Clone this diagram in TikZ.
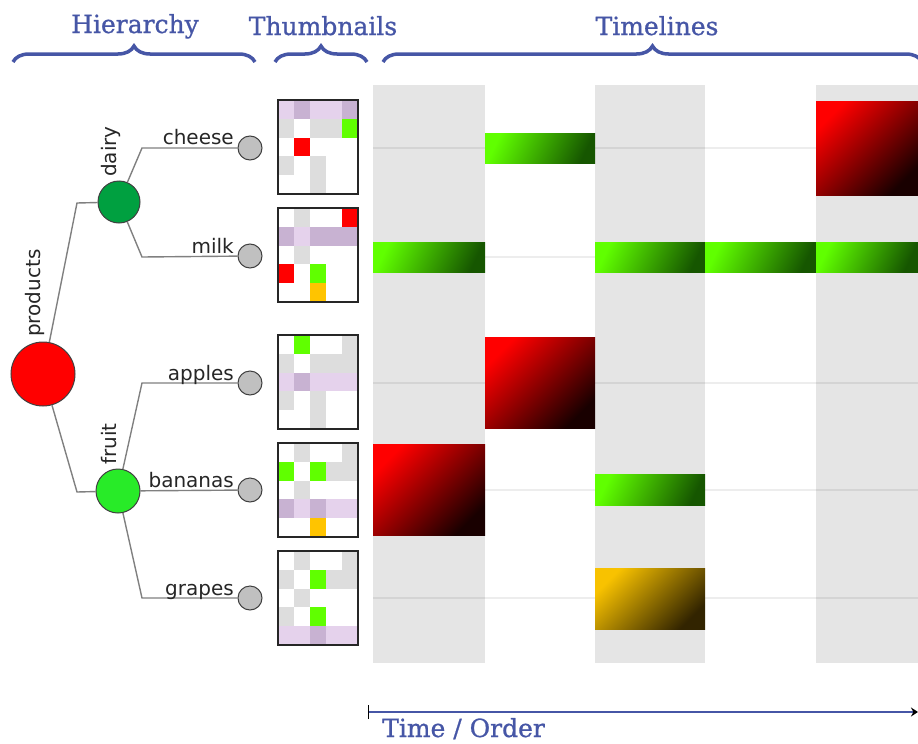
\documentclass[tikz,border=0pt]{standalone}
\usepackage{fontspec}
\setmainfont{DejaVu Serif}
\newfontfamily\hdrfont[FakeBold=0.9]{DejaVu Serif}
\newfontfamily\lblfont{DejaVu Sans}
\usetikzlibrary{decorations.pathreplacing,arrows.meta}
\definecolor{hdr}{RGB}{70,86,166}
\definecolor{bandgray}{RGB}{229,229,229}
\definecolor{gy}{RGB}{221,221,221}
\definecolor{pl}{RGB}{229,210,236}
\definecolor{pd}{RGB}{200,178,210}
\definecolor{gn}{RGB}{96,255,0}
\definecolor{rd}{RGB}{255,0,0}
\definecolor{og}{RGB}{255,196,0}
\definecolor{wh}{RGB}{255,255,255}
\definecolor{dairygreen}{RGB}{0,160,64}
\definecolor{fruitgreen}{RGB}{40,235,40}
\definecolor{leafgray}{RGB}{192,192,192}
\definecolor{gbright}{RGB}{96,255,0}
\definecolor{gdark}{RGB}{22,86,0}
\definecolor{obright}{RGB}{248,194,0}
\definecolor{odark}{RGB}{50,36,0}
\definecolor{rdark}{RGB}{25,0,0}
\tikzset{
  hdrtxt/.style={font=\hdrfont\fontsize{25}{30}\selectfont, text=hdr, inner sep=0},
  bracedeco/.style={draw=hdr, line width=3.5pt, decorate, decoration={brace, amplitude=16pt}},
  lbl/.style={font=\lblfont\fontsize{20}{24}\selectfont, text=black!85, inner sep=0},
  conn/.style={draw=black!50, line width=1.4pt},
  bigcirc/.style={circle, draw=black!75, line width=1pt, inner sep=0},
  leaf/.style={circle, draw=black!75, line width=1pt, inner sep=0, minimum size=24pt, fill=leafgray},
  thumbbox/.style={draw=black!85, line width=2pt, minimum width=80pt, minimum height=94pt, inner sep=0},
  band/.style={fill=bandgray},
  rowline/.style={draw=black, draw opacity=0.07, line width=2pt},
  greenbar/.style={top color=gbright, bottom color=gdark, shading angle=65},
  redbox/.style={top color=rd, bottom color=rdark, shading angle=45},
  orangebox/.style={top color=obright, bottom color=odark, shading angle=45}
}
\newcommand\thumbrow[3]{%
  \foreach \cc [count=\ii from 0] in {#3} {\fill[fill=\cc] ({278+16*\ii},{#1+18.8*#2}) rectangle ++(16,18.8);}}
\begin{document}
\begin{tikzpicture}[x=1pt,y=-1pt]
\useasboundingbox (0,0) rectangle (918,744);

% headers
\node[hdrtxt, anchor=base] (hHier) at (135,33) {Hierarchy};
\node[hdrtxt, anchor=base] (hThumb) at (323,35) {Thumbnails};
\node[hdrtxt, anchor=base] (hTime) at (657,35) {Timelines};
\draw[bracedeco] (13,62) -- (255,62);
\draw[bracedeco] (275,62) -- (367,62);
\draw[bracedeco] (383,62) -- (922,62);

% timeline bands
\fill[band] (373,85) rectangle (485,663);
\fill[band] (595,85) rectangle (705,663);
\fill[band] (816,85) rectangle (918,663);
\foreach \yy in {148,257,383,490,598} {\draw[rowline] (373,\yy) -- (918,\yy);}

% bars
\shade[greenbar] (485,133) rectangle (595,163);
\shade[redbox] (816,101) rectangle (918,195);
\shade[greenbar] (373,242) rectangle (485,272);
\shade[greenbar] (595,242) rectangle (705,272);
\shade[greenbar] (705,242) rectangle (816,272);
\shade[greenbar] (816,242) rectangle (918,272);
\shade[redbox] (485,337) rectangle (595,428);
\shade[redbox] (373,444) rectangle (485,535);
\shade[greenbar] (595,474) rectangle (705,505);
\shade[orangebox] (595,568) rectangle (705,629);

% thumbnails
\thumbrow{100}{0}{pl,pd,pl,pl,pd}
\thumbrow{100}{1}{gy,wh,gy,gy,gn}
\thumbrow{100}{2}{wh,rd,wh,wh,wh}
\thumbrow{100}{3}{gy,wh,gy,wh,wh}
\thumbrow{100}{4}{wh,wh,gy,wh,wh}
\node[thumbbox] (th1) at (318,147) {};

\thumbrow{208}{0}{wh,gy,wh,wh,rd}
\thumbrow{208}{1}{pd,pl,pd,pd,pd}
\thumbrow{208}{2}{wh,gy,wh,wh,wh}
\thumbrow{208}{3}{rd,wh,gn,wh,wh}
\thumbrow{208}{4}{wh,wh,og,wh,wh}
\node[thumbbox] (th2) at (318,255) {};

\thumbrow{335}{0}{wh,gn,wh,wh,gy}
\thumbrow{335}{1}{gy,wh,gy,gy,gy}
\thumbrow{335}{2}{pl,pd,pl,pl,pl}
\thumbrow{335}{3}{gy,wh,gy,wh,wh}
\thumbrow{335}{4}{wh,wh,gy,wh,wh}
\node[thumbbox] (th3) at (318,382) {};

\thumbrow{443}{0}{wh,gy,wh,wh,gy}
\thumbrow{443}{1}{gn,wh,gn,gy,gy}
\thumbrow{443}{2}{wh,gy,wh,wh,wh}
\thumbrow{443}{3}{pd,pl,pd,pl,pl}
\thumbrow{443}{4}{wh,wh,og,wh,wh}
\node[thumbbox] (th4) at (318,490) {};

\thumbrow{551}{0}{wh,gy,wh,wh,gy}
\thumbrow{551}{1}{gy,wh,gn,gy,gy}
\thumbrow{551}{2}{wh,gy,wh,wh,wh}
\thumbrow{551}{3}{gy,wh,gn,wh,wh}
\thumbrow{551}{4}{pl,pl,pd,pl,pl}
\node[thumbbox] (th5) at (318,598) {};

% tree
\node[bigcirc, fill=rd, minimum size=64pt] (products) at (43,374) {};
\node[bigcirc, fill=dairygreen, minimum size=42pt] (dairy) at (119,202) {};
\node[bigcirc, fill=fruitgreen, minimum size=44pt] (fruit) at (118,491) {};
\node[leaf] (cheese) at (250,148) {};
\node[leaf] (milk) at (250,256) {};
\node[leaf] (apples) at (250,383) {};
\node[leaf] (bananas) at (250,490) {};
\node[leaf] (grapes) at (250,598) {};

\coordinate (bd) at (77,203);
\coordinate (bf) at (77,492);
\coordinate (bc) at (142,148);
\coordinate (bm) at (142,257);
\coordinate (ba) at (142,383);
\coordinate (bg) at (142,598);

\draw[conn] (products) -- (bd) -- (dairy);
\draw[conn] (products) -- (bf) -- (fruit);
\draw[conn] (dairy) -- (bc) -- (cheese);
\draw[conn] (dairy) -- (bm) -- (milk);
\draw[conn] (fruit) -- (ba) -- (apples);
\draw[conn] (fruit) -- (bananas);
\draw[conn] (fruit) -- (bg) -- (grapes);

\node[lbl, rotate=90, anchor=base west] (lproducts) at (40,337) {products};
\node[lbl, rotate=90, anchor=base west] (ldairy) at (116,177) {dairy};
\node[lbl, rotate=90, anchor=base west] (lfruit) at (116,465) {fruit};
\node[lbl, anchor=base east] (lcheese) at (234,144) {cheese};
\node[lbl, anchor=base east] (lmilk) at (234,253) {milk};
\node[lbl, anchor=base east] (lapples) at (234,380) {apples};
\node[lbl, anchor=base east] (lbananas) at (234,487) {bananas};
\node[lbl, anchor=base east] (lgrapes) at (234,595) {grapes};

% time axis
\coordinate (tl) at (368,712);
\coordinate (tr) at (918,712);
\draw[hdr, line width=2pt, {Bar[black,width=14pt,line width=1.2pt]}-{Stealth[black,length=7pt,width=9pt]}] (tl) -- (tr);
\node[hdrtxt, anchor=base west] (ltime) at (382,737) {Time / Order};
\end{tikzpicture}
\end{document}
